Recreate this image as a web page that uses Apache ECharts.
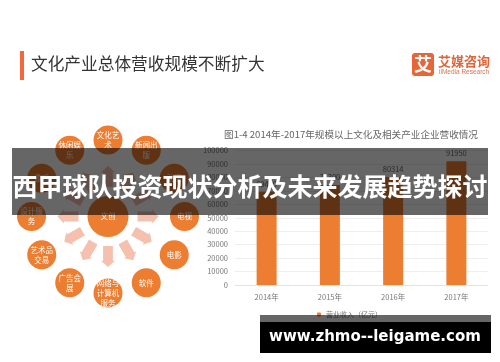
<!DOCTYPE html>
<html>
<head>
<meta charset="utf-8">
<style>html,body{margin:0;padding:0;background:#fff}#chart{width:500px;height:362px}</style>
<script src="https://cdn.jsdelivr.net/npm/echarts@6/dist/echarts.min.js"></script>
</head>
<body>
<div id="chart"></div>
<script>
/* chart data */
const years = ["2014年", "2015年", "2016年", "2017年"];
const revenue = [69400, 74300, 80314, 91950];
const yTicks = [0, 100000, 10000];
const sectors = ["文化艺\n术", "新闻出\n版", "动漫", "电视", "电影", "软件", "网络与\n计算机\n服务", "广告会\n展", "艺术品\n交易", "设计服\n务", "游戏", "休闲娱\n乐"];
const hubName = "文创";

const CJK = '"Noto Sans CJK SC", sans-serif';
const ORANGE = "#ed7d31";

const chart = echarts.init(document.getElementById("chart"));
chart.setOption({
    animation: false,
    backgroundColor: "#fff",
    textStyle: { fontFamily: CJK },
    grid: { left: 235, right: 12, top: 150.5, bottom: 77 },
    xAxis: {
        type: "category", data: years,
        axisLine: { lineStyle: { color: "#e2e2e2" } }, axisTick: { show: false },
        axisLabel: { color: "#777", fontSize: 7.5, margin: 8 },
    },
    yAxis: {
        type: "value", min: yTicks[0], max: yTicks[1], interval: yTicks[2],
        axisLine: { show: false }, axisTick: { show: false },
        axisLabel: { color: "#777", fontSize: 7.5, margin: 7, formatter: v => String(v) },
        splitLine: { lineStyle: { color: "#eee" } },
    },
    polar: { center: [108, 216.5], radius: 100 },
    radiusAxis: { min: 0, max: 100, show: false },
    angleAxis: { type: "category", data: sectors, boundaryGap: false, startAngle: 90, show: false },
    legend: {
        data: ["营业收入（亿元）"], left: 312, top: 306, itemWidth: 4, itemHeight: 4, itemGap: 3,
        textStyle: { color: "#777", fontSize: 7 },
    },
    series: [
        {
            name: "营业收入（亿元）", type: "bar", data: revenue, barWidth: 20,
            itemStyle: { color: ORANGE },
            label: { show: true, position: "top", color: "#666", fontSize: 7.5, distance: 4 },
        },
        {
            type: "scatter", coordinateSystem: "polar", symbol: "path://M1.5 0H8.5V14H10L5 20L0 14H1.5Z",
            symbolSize: [14, 21], itemStyle: { color: "#f5c1ae", opacity: 1 }, silent: true,
            symbolRotate: (v, p) => -30 * p.dataIndex + 180,
            data: sectors.map((s, i) => [40, i]),
        },
        {
            type: "scatter", coordinateSystem: "polar", symbolSize: 29, itemStyle: { color: ORANGE, opacity: 1 }, silent: true,
            label: { show: true, position: "inside", color: "#fff", fontSize: 7.5, lineHeight: 10, formatter: p => sectors[p.dataIndex] },
            data: sectors.map((s, i) => [76.5, i]),
        },
        {
            type: "scatter", coordinateSystem: "polar", symbolSize: 41, itemStyle: { color: ORANGE, opacity: 1 }, silent: true,
            label: { show: true, position: "inside", color: "#fff", fontSize: 7.5, formatter: hubName },
            data: [[0, 0]],
        },
    ],
    graphic: [
        { type: "rect", z: 50, shape: { x: 20, y: 51, width: 4, height: 29 }, style: { fill: "#f4673a" } },
        { type: "text", z: 50, x: 31, y: 64, style: { text: "文化产业总体营收规模不断扩大", font: '16.7px ' + CJK, fill: "#333", textVerticalAlign: "middle" } },
        { type: "text", z: 50, x: 351, y: 134, style: { text: "图1-4 2014年-2017年规模以上文化及相关产业企业营收情况", font: '9.6px ' + CJK, fill: "#666", textAlign: "center", textVerticalAlign: "middle" } },
        /* logo */
        { type: "rect", z: 50, shape: { x: 412, y: 53, width: 22, height: 23, r: 3 }, style: { fill: "#e8653a" } },
        { type: "text", z: 51, x: 423, y: 64.5, style: { text: "艾", font: 'bold 18px ' + CJK, fill: "#fff", textAlign: "center", textVerticalAlign: "middle" } },
        { type: "text", z: 50, x: 438, y: 61, style: { text: "艾媒咨询", font: 'bold 13px ' + CJK, fill: "#e0653a", textVerticalAlign: "middle" } },
        { type: "text", z: 50, x: 439, y: 72, style: { text: "iiMedia Research", font: '6.5px "Liberation Sans", sans-serif', fill: "#d9744f", textVerticalAlign: "middle" } },
        /* overlays */
        { type: "rect", z: 100, shape: { x: 12, y: 148, width: 476, height: 67 }, style: { fill: "rgba(0,0,0,0.6)" } },
        { type: "text", z: 101, x: 250, y: 186, style: { text: "西甲球队投资现状分析及未来发展趋势探讨", font: 'bold 25px ' + CJK, fill: "#fff", textAlign: "center", textVerticalAlign: "middle" } },
        { type: "rect", z: 100, shape: { x: 260, y: 315, width: 231, height: 7 }, style: { fill: "rgba(0,0,0,0.6)" } },
        { type: "rect", z: 100, shape: { x: 260, y: 322, width: 231, height: 31 }, style: { fill: "#000" } },
        { type: "text", z: 101, x: 375, y: 337, style: { text: "www.zhmo--leigame.com", font: 'bold 15px "DejaVu Sans", sans-serif', fill: "#fff", textAlign: "center", textVerticalAlign: "middle" } },
    ],
});
</script>
</body>
</html>
